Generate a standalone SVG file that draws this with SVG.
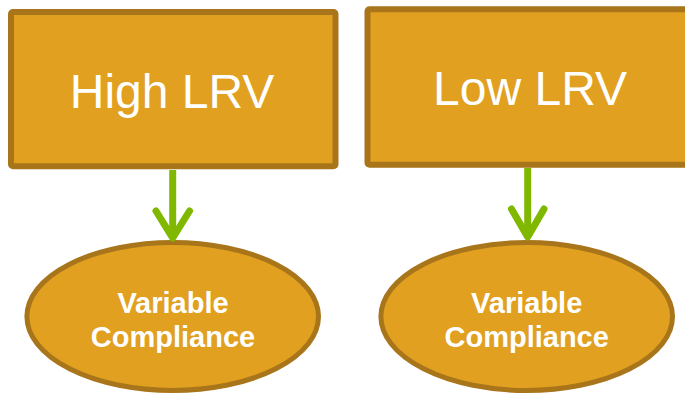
<svg xmlns="http://www.w3.org/2000/svg" width="685" height="395" viewBox="0 0 685 395">
<style>
.box{fill:#E1A020;stroke:#A8751A;stroke-width:6}
.oval{fill:#E1A020;stroke:#A8751A;stroke-width:5}
.big{font-family:"Liberation Sans",Arial,sans-serif;font-size:48px;fill:#FFFFFF;text-anchor:middle}
.small{font-family:"Liberation Sans",Arial,sans-serif;font-size:29px;font-weight:bold;fill:#FFFFFF;text-anchor:middle}
.conn{fill:none;stroke:#80B800;stroke-width:7;stroke-linecap:round;stroke-linejoin:round}
</style>
<rect width="685" height="395" fill="#FFFFFF"/>
<g id="high-lrv">
<rect class="box" x="11" y="12" width="324.5" height="154.3" rx="2"/>
<text class="big" x="172" y="108">High LRV</text>
</g>
<g id="low-lrv">
<rect class="box" x="367.5" y="9.3" width="330" height="155.4" rx="2"/>
<text class="big" x="530" y="105">Low LRV</text>
</g>
<g id="compliance-left">
<ellipse class="oval" cx="172.7" cy="316.5" rx="145.8" ry="74"/>
<text class="small" x="173" y="312.7">Variable</text>
<text class="small" x="173" y="346.7">Compliance</text>
</g>
<g id="compliance-right">
<ellipse class="oval" cx="526.7" cy="316.5" rx="145.8" ry="74"/>
<text class="small" x="526.7" y="312.7">Variable</text>
<text class="small" x="526.7" y="346.7">Compliance</text>
</g>
<g id="connectors">
<path class="conn" d="M172.7 170 V238" style="stroke-linecap:butt"/>
<path class="conn" d="M156 211 L172.7 238 L189.5 211"/>
<path class="conn" d="M527.7 168 V237" style="stroke-linecap:butt"/>
<path class="conn" d="M511.5 209 L527.7 237 L544 209"/>
</g>
</svg>
